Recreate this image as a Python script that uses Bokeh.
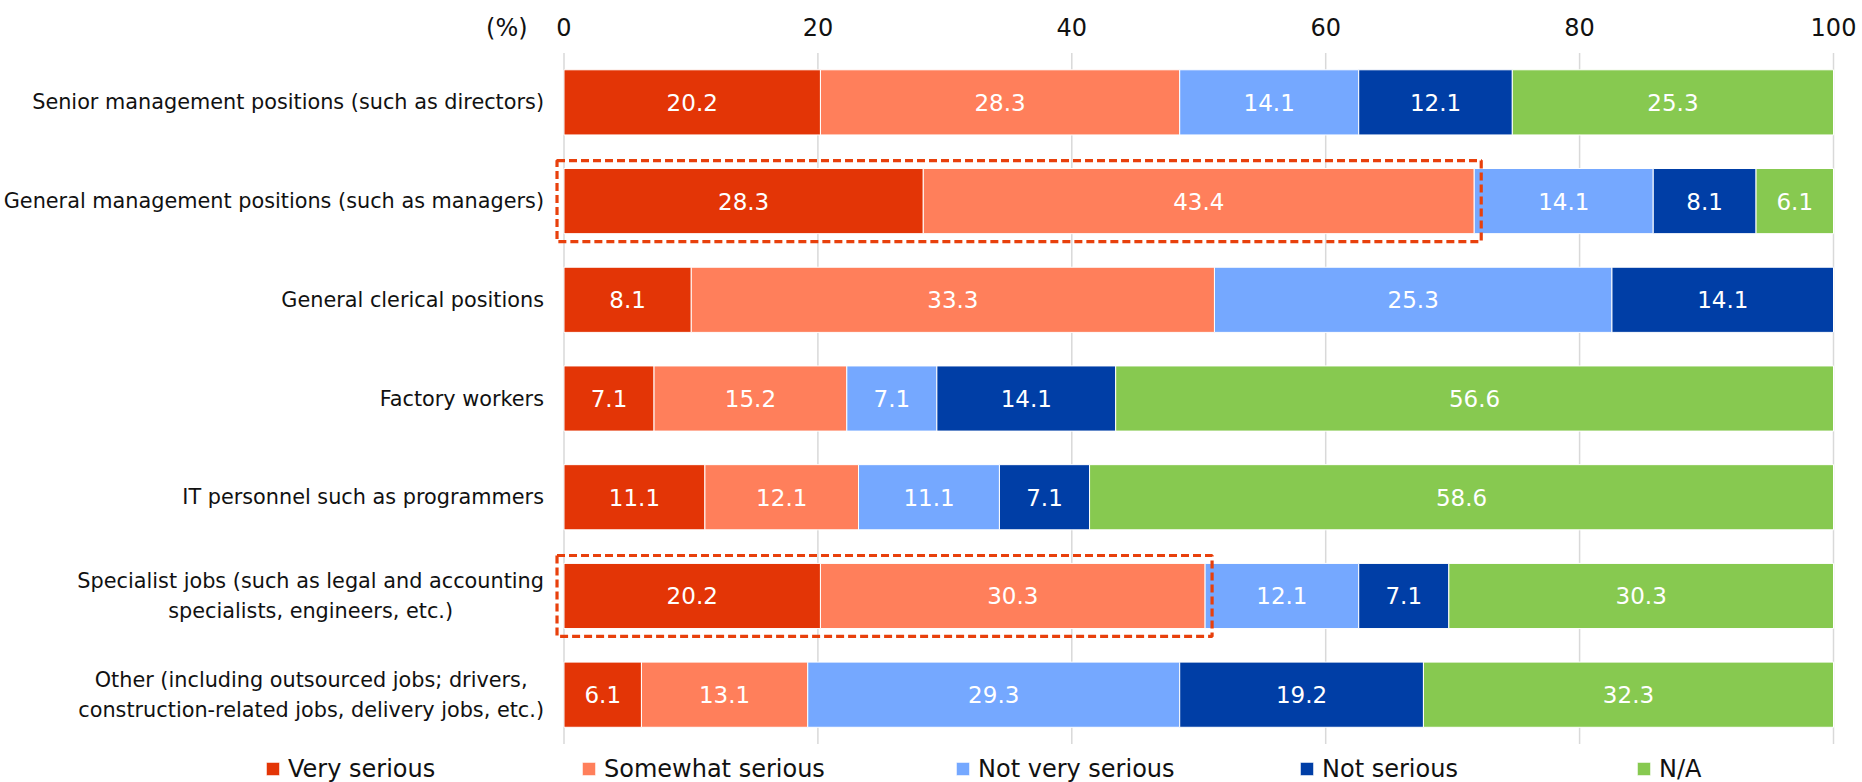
from bokeh.plotting import figure
from bokeh.models import (ColumnDataSource, Range1d, FixedTicker,
                          Legend, LegendItem)
from bokeh.core.properties import value
from bokeh.embed import file_html
from bokeh.resources import INLINE

# ---------------- data ----------------
categories = [
    "Senior management positions (such as directors)",
    "General management positions (such as managers)",
    "General clerical positions",
    "Factory workers",
    "IT personnel such as programmers",
    "Specialist jobs (such as legal and accounting\nspecialists, engineers, etc.)",
    "Other (including outsourced jobs; drivers,\nconstruction-related jobs, delivery jobs, etc.)",
]
series_names = ["Very serious", "Somewhat serious", "Not very serious", "Not serious", "N/A"]
very_serious     = [20.2, 28.3, 8.1, 7.1, 11.1, 20.2, 6.1]
somewhat_serious = [28.3, 43.4, 33.3, 15.2, 12.1, 30.3, 13.1]
not_very_serious = [14.1, 14.1, 25.3, 7.1, 11.1, 12.1, 29.3]
not_serious      = [12.1, 8.1, 14.1, 14.1, 7.1, 7.1, 19.2]
not_applicable   = [25.3, 6.1, None, 56.6, 58.6, 30.3, 32.3]
x_ticks = [0, 20, 40, 60, 80, 100]
unit_label = "(%)"
highlighted = [categories[1], categories[5]]

series_values = [very_serious, somewhat_serious, not_very_serious, not_serious, not_applicable]
colors = ["#E33506", "#FF7F5B", "#75A8FF", "#003EA6", "#87C950"]
FONT = "DejaVu Sans"

# 100% stacked: normalise each row to its total
totals = [sum(v for v in row if v is not None) for row in zip(*series_values)]
n = len(categories)
rows = list(range(n))

# ---------------- layout (pixels in page space) ----------------
W, H = 1862, 782
TOP = 52                      # space for the x axis above
X0_PX, X100_PX = 563.5, 1833  # where 0 and 100 land
ROWS_TOP_PX, ROWS_BOTTOM_PX = 51.5, 743.5
LEGEND_X_PX = [264, 580, 954, 1298, 1635]
LEGEND_Y_PX = -0.5            # legend offset from the bottom edge
scale = (X100_PX - X0_PX) / 100.0
pitch = (ROWS_BOTTOM_PX - ROWS_TOP_PX) / n
x_start = -X0_PX / scale
x_end = 100 + (W - X100_PX) / scale
y_top = -0.5 - (TOP - ROWS_TOP_PX) / pitch
y_bottom = n - 0.5 + (H - ROWS_BOTTOM_PX) / pitch

PAD = 0.55  # highlight box padding in x units
pct_pos = -4.5

p = figure(
    width=W, height=H,
    x_range=Range1d(x_start, x_end),
    y_range=Range1d(y_bottom, y_top),
    x_axis_location="above", y_axis_location=None,
    output_backend="svg", toolbar_location=None,
    min_border_left=0, min_border_right=0, min_border_top=TOP, min_border_bottom=0,
)
p.outline_line_color = None
p.background_fill_color = "white"
p.xgrid.grid_line_color = None
p.ygrid.grid_line_color = None

# vertical gridlines spanning the category band only
p.segment(x0=x_ticks, x1=x_ticks, y0=[-0.5] * len(x_ticks), y1=[n - 0.5] * len(x_ticks),
          line_color="#D9D9D9", line_width=1.5)

legend_items = []
cum = [0.0] * n
for name, vals, col in zip(series_names, series_values, colors):
    left, right, ys, labels, mids = [], [], [], [], []
    for i, v in enumerate(vals):
        if v is None:
            continue
        share = v / totals[i] * 100
        left.append(cum[i])
        right.append(cum[i] + share)
        mids.append(cum[i] + share / 2)
        ys.append(rows[i])
        labels.append(f"{v:.1f}")
        cum[i] += share
    src = ColumnDataSource(dict(y=ys, left=left, right=right, mid=mids, label=labels))
    r = p.hbar(y="y", left="left", right="right", height=0.66, source=src,
               fill_color=col, line_color="white", line_width=1)
    p.text(x="mid", y="y", text="label", source=src, text_color="white",
           text_align="center", text_baseline="middle",
           text_font=value(FONT), text_font_size="23px")
    legend_items.append(LegendItem(label=name, renderers=[r]))

# dashed highlight boxes around the two "serious" segments
hl_y, hl_l, hl_r = [], [], []
for c in highlighted:
    i = categories.index(c)
    hl_y.append(rows[i])
    hl_l.append(-PAD)
    hl_r.append((very_serious[i] + somewhat_serious[i]) / totals[i] * 100 + PAD)
p.hbar(y=hl_y, left=hl_l, right=hl_r, height=0.82, fill_alpha=0,
       line_color="#E8400C", line_width=3.2, line_dash="8 4")

# category labels (right-anchored block, lines centred)
p.text(x=[0] * n, y=rows, text=categories, x_offset=-20,
       anchor=value("center_right"), text_align="center", text_baseline="middle",
       text_font=value(FONT), text_font_size="20.8px", text_color="#111111",
       text_line_height=1.25)

# x axis above, with the unit label as an extra tick
xa = p.xaxis[0]
xa.ticker = FixedTicker(ticks=[pct_pos] + x_ticks)
xa.major_label_overrides = {pct_pos: unit_label}
xa.axis_line_color = None
xa.major_tick_line_color = None
xa.minor_tick_line_color = None
xa.major_label_text_font = FONT
xa.major_label_text_font_size = "24px"
xa.major_label_text_color = "#111111"
xa.major_label_standoff = 5

# one legend per entry so each sits where the reference places it
for item, lx in zip(legend_items, LEGEND_X_PX):
    lg = Legend(items=[item], orientation="horizontal",
                location=(lx, LEGEND_Y_PX), glyph_width=17, glyph_height=17,
                label_height=17, label_standoff=7, padding=0, margin=0,
                label_text_font=FONT, label_text_font_size="24px",
                label_text_color="#111111", border_line_color=None,
                background_fill_alpha=0)
    p.add_layout(lg)

open("out.html", "w").write(file_html(p, INLINE))
